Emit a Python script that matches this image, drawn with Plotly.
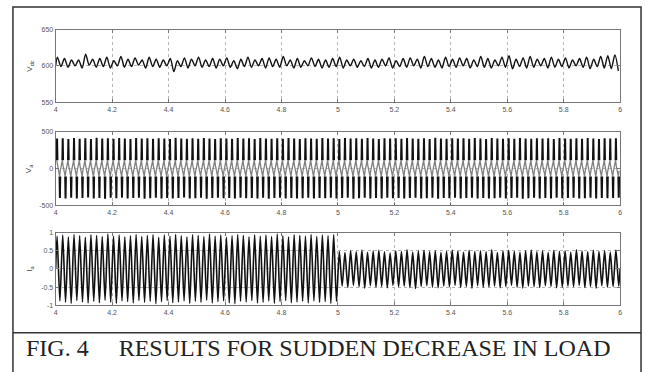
import plotly.graph_objects as go
from plotly.subplots import make_subplots

# ---------------- data ----------------
t_start, t_end = 4.0, 6.0
x_ticks = [4, 4.2, 4.4, 4.6, 4.8, 5, 5.2, 5.4, 5.6, 5.8, 6]
x_ticktext = ["4", "4.2", "4.4", "4.6", "4.8", "5", "5.2", "5.4", "5.6", "5.8", "6"]

vdc_ticks = [550, 600, 650]
va_ticks = [-500, 0, 500]
ia_ticks = [-1, -0.5, 0, 0.5, 1]
ia_ticktext = ["-1", "-0.5", "0", "0.5", "1"]

# DC-link voltage: local maxima / minima of the ripple (one pair per 0.025 s)
vdc_period = 0.025
vdc_peaks = [612, 610, 608, 608, 616, 609, 610, 612, 607, 613,
             609, 611, 608, 612, 609, 608, 610, 607, 611, 609,
             612, 608, 610, 609, 611, 607, 609, 612, 608, 610,
             611, 609, 613, 608, 610, 607, 611, 609, 608, 610,
             612, 608, 609, 607, 610, 608, 609, 611, 607, 610,
             611, 609, 613, 610, 608, 612, 609, 611, 610, 608,
             613, 610, 608, 612, 614, 609, 611, 613, 609, 610,
             612, 609, 611, 608, 610, 612, 609, 613, 614, 615]
vdc_troughs = [599, 598, 600, 597, 601, 598, 599, 597, 600, 598,
               599, 601, 597, 599, 598, 600, 592, 599, 597, 600,
               598, 599, 597, 600, 598, 596, 599, 598, 600, 597,
               599, 598, 600, 597, 598, 600, 599, 597, 598, 599,
               597, 600, 598, 599, 597, 598, 600, 597, 599, 598,
               600, 597, 599, 598, 597, 599, 598, 600, 597, 599,
               598, 597, 600, 598, 596, 599, 597, 598, 600, 597,
               598, 599, 597, 600, 598, 596, 599, 597, 596, 593]

# Phase voltage: per-cycle positive / negative peaks (50 Hz, 100 cycles)
f_line = 50.0
va_pos = [405, 410, 400, 412, 403, 408, 398, 415, 404, 409,
          401, 411, 406, 399, 413, 404, 408, 402, 410, 405,
          400, 414, 406, 403, 409, 401, 412, 405, 398, 410,
          407, 402, 411, 404, 408, 400, 413, 406, 403, 409,
          401, 412, 405, 399, 410, 406, 402, 411, 404, 408,
          400, 413, 405, 409, 402, 411, 406, 399, 410, 404,
          408, 401, 412, 405, 403, 409, 400, 414, 406, 402,
          410, 404, 408, 401, 411, 405, 399, 412, 406, 403,
          409, 401, 413, 405, 402, 410, 404, 408, 400, 411,
          406, 403, 409, 401, 412, 405, 399, 410, 404, 408]
va_neg = [-402, -408, -399, -411, -404, -397, -409, -403, -412, -400,
          -406, -398, -410, -404, -401, -413, -405, -399, -408, -402,
          -410, -403, -397, -409, -405, -400, -412, -404, -398, -407,
          -403, -411, -399, -406, -402, -409, -400, -413, -404, -398,
          -408, -402, -410, -405, -399, -411, -403, -407, -400, -409,
          -404, -398, -412, -405, -401, -408, -403, -410, -399, -406,
          -402, -411, -404, -398, -409, -405, -400, -412, -403, -407,
          -399, -410, -404, -401, -408, -402, -411, -405, -398, -409,
          -403, -400, -412, -406, -399, -408, -404, -410, -401, -407,
          -403, -398, -411, -405, -400, -409, -402, -407, -404, -400]
va_inner = 110   # level where the dense switching band ends

# Phase current: per-cycle positive / negative peaks (load drops at t = 5 s)
ia_pos = [0.90, 0.93, 0.88, 0.95, 0.91, 0.87, 0.94, 0.92, 0.89, 0.96,
          0.90, 0.93, 0.88, 0.91, 0.95, 0.89, 0.92, 0.94, 0.87, 0.93,
          0.90, 0.95, 0.91, 0.88, 0.94, 0.92, 0.89, 0.96, 0.90, 0.93,
          0.87, 0.91, 0.95, 0.92, 0.88, 0.94, 0.90, 0.93, 0.89, 0.96,
          0.91, 0.88, 0.94, 0.92, 0.90, 0.95, 0.89, 0.93, 0.91, 0.94,
          0.48, 0.45, 0.50, 0.47, 0.52, 0.46, 0.49, 0.51, 0.47, 0.44,
          0.50, 0.48, 0.53, 0.46, 0.49, 0.51, 0.47, 0.50, 0.45, 0.48,
          0.52, 0.49, 0.46, 0.51, 0.48, 0.50, 0.47, 0.53, 0.45, 0.49,
          0.51, 0.48, 0.46, 0.50, 0.52, 0.47, 0.49, 0.45, 0.51, 0.48,
          0.50, 0.46, 0.53, 0.49, 0.47, 0.51, 0.48, 0.50, 0.46, 0.52]
ia_neg = [-0.88, -0.92, -0.95, -0.87, -0.91, -0.94, -0.89, -0.93, -0.86, -0.92,
          -0.95, -0.88, -0.90, -0.94, -0.87, -0.92, -0.89, -0.96, -0.90, -0.87,
          -0.93, -0.91, -0.88, -0.95, -0.89, -0.92, -0.86, -0.94, -0.90, -0.88,
          -0.93, -0.96, -0.89, -0.91, -0.87, -0.94, -0.92, -0.88, -0.95, -0.90,
          -0.87, -0.93, -0.91, -0.89, -0.94, -0.88, -0.92, -0.90, -0.95, -0.89,
          -0.47, -0.51, -0.45, -0.49, -0.53, -0.46, -0.50, -0.48, -0.52, -0.45,
          -0.49, -0.47, -0.51, -0.54, -0.48, -0.46, -0.50, -0.52, -0.47, -0.49,
          -0.45, -0.51, -0.48, -0.53, -0.46, -0.50, -0.49, -0.47, -0.52, -0.48,
          -0.45, -0.50, -0.53, -0.47, -0.49, -0.51, -0.46, -0.48, -0.52, -0.50,
          -0.47, -0.49, -0.45, -0.51, -0.48, -0.53, -0.46, -0.50, -0.49, -0.47]

caption = "FIG. 4     RESULTS FOR SUDDEN DECREASE IN LOAD"

# ---------------- build traces ----------------
T = 1.0 / f_line

vdc_x, vdc_y = [t_start], [600]
for i, (p, q) in enumerate(zip(vdc_peaks, vdc_troughs)):
    t0 = t_start + i * vdc_period
    vdc_x += [t0 + 0.25 * vdc_period, t0 + 0.75 * vdc_period]
    vdc_y += [p, q]

va_bx, va_by, va_gx, va_gy = [], [], [], []
d = 0.0013
for k, (p, n) in enumerate(zip(va_pos, va_neg)):
    t0 = t_start + k * T
    tp, tn = t0 + 0.25 * T, t0 + 0.75 * T
    va_bx += [tp - d, tp, tp + d, None, tn - d, tn, tn + d, None]
    va_by += [va_inner, p, va_inner, None, -va_inner, n, -va_inner, None]
    va_gx += [tp - d, tp + d, tn - d, tn + d]
    va_gy += [va_inner, va_inner * 0.3, -va_inner, -va_inner * 0.3]

ia_x, ia_y = [t_start], [0.0]
for k, (p, n) in enumerate(zip(ia_pos, ia_neg)):
    t0 = t_start + k * T
    ia_x += [t0 + 0.25 * T, t0 + 0.75 * T]
    ia_y += [p, n]
ia_x.append(t_end)
ia_y.append(0.0)

# ---------------- figure ----------------
W, H = 646, 372
fig = make_subplots(rows=3, cols=1)

fig.add_trace(go.Scatter(x=vdc_x, y=vdc_y, mode="lines",
                         line=dict(color="#111", width=1.4, shape="spline", smoothing=0.8)),
              row=1, col=1)
fig.add_trace(go.Scatter(x=va_gx, y=va_gy, mode="lines",
                         line=dict(color="#808080", width=1.3)), row=2, col=1)
fig.add_trace(go.Scatter(x=va_bx, y=va_by, mode="lines",
                         line=dict(color="#111", width=2)), row=2, col=1)
fig.add_trace(go.Scatter(x=ia_x, y=ia_y, mode="lines",
                         line=dict(color="#111", width=1.6, shape="spline", smoothing=0.7)),
              row=3, col=1)


def px_x(v):
    return v / W


def px_y(v):
    return 1 - v / H


x_dom = [px_x(54), px_x(622)]
y_doms = [[px_y(100), px_y(26)], [px_y(205), px_y(130)], [px_y(307), px_y(233)]]

axis_common = dict(showline=True, linecolor="#777", linewidth=1, mirror="ticks",
                   ticks="inside", ticklen=3, tickcolor="#777",
                   showgrid=True, gridcolor="#b5b5b5", griddash="dot", gridwidth=0.8,
                   zeroline=False, tickfont=dict(family="Arial, Liberation Sans", size=7, color="#555"))

yranges = [[550, 650], [-500, 500], [-1, 1]]
yticks = [(vdc_ticks, [str(v) for v in vdc_ticks]),
          (va_ticks, [str(v) for v in va_ticks]),
          (ia_ticks, ia_ticktext)]

for i in range(3):
    xa = "xaxis" if i == 0 else f"xaxis{i+1}"
    ya = "yaxis" if i == 0 else f"yaxis{i+1}"
    fig.layout[xa].update(domain=x_dom, range=[t_start, t_end], tickmode="array",
                          tickvals=x_ticks, ticktext=x_ticktext, **axis_common)
    fig.layout[ya].update(domain=y_doms[i], range=yranges[i], tickmode="array",
                          tickvals=yticks[i][0], ticktext=yticks[i][1], **axis_common)

titles = ["V<sub>dc</sub>", "V<sub>a</sub>", "I<sub>a</sub>"]
for i, ttl in enumerate(titles):
    yc = (y_doms[i][0] + y_doms[i][1]) / 2
    fig.add_annotation(x=px_x(28), y=yc, xref="paper", yref="paper", text=ttl,
                       textangle=-90, showarrow=False, xanchor="center", yanchor="middle",
                       font=dict(family="Arial, Liberation Sans", size=8, color="#444"))

fig.add_shape(type="rect", xref="paper", yref="paper",
              x0=px_x(11), x1=px_x(643), y0=-0.1, y1=px_y(3),
              line=dict(color="#333", width=1.5))
fig.add_shape(type="line", xref="paper", yref="paper",
              x0=px_x(11), x1=px_x(643), y0=px_y(335), y1=px_y(335),
              line=dict(color="#333", width=1.5))

fig.add_annotation(x=px_x(22), y=px_y(351), xref="paper", yref="paper", text=caption.replace(" ", "&nbsp;"),
                   showarrow=False, xanchor="left", yanchor="middle",
                   font=dict(family="Liberation Serif, Times New Roman, serif", size=24, color="#222"))

fig.update_layout(width=W, height=H, margin=dict(l=0, r=0, t=0, b=0),
                  paper_bgcolor="white", plot_bgcolor="white", showlegend=False)

post = (
    "document.documentElement.style.cssText='margin:0;padding:0;overflow:hidden;height:372px;width:646px;';"
    "document.body.style.cssText='margin:0;padding:0;overflow:hidden;height:372px;width:646px;';"
    "var gd=document.getElementById('{plot_id}');"
    "gd.style.position='fixed';gd.style.top='0px';gd.style.left='0px';"
)
fig.write_html("out.html", config={"displayModeBar": False}, post_script=post)
